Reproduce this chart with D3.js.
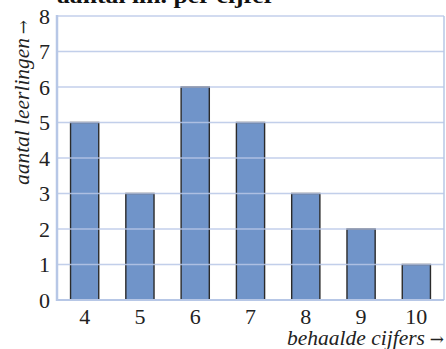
<!DOCTYPE html>
<html><head><meta charset="utf-8">
<script src="https://cdn.jsdelivr.net/npm/d3@7"></script>
<style>body{margin:0;background:#fff}svg{display:block}</style>
</head><body>
<svg id="c" width="446" height="349"></svg>
<script>
const categories = ["4","5","6","7","8","9","10"];
const values = [5,3,6,5,3,2,1];
const yTicks = [0,1,2,3,4,5,6,7,8];
const title = "aantal lln. per cijfer";
const yTitle = "aantal leerlingen";
const xTitle = "behaalde cijfers";
const arrow = "\u2192";

const svg = d3.select("#c");
const L = 57, R = 444, T = 16, B = 300;
const x = d3.scaleBand().domain(categories).range([L, R]).paddingInner(0.49).paddingOuter(0.245);
const y = d3.scaleLinear().domain([0, 8]).range([B, T]);
const gridCol = "#b7c7e6";
const font = "Liberation Serif";
const arrowFont = "DejaVu Serif";

// bars
svg.append("g").selectAll("rect").data(values).join("rect")
  .attr("x", (d,i) => x(categories[i]))
  .attr("y", d => y(d))
  .attr("width", x.bandwidth())
  .attr("height", d => y(0) - y(d))
  .attr("fill", "#7094c9")
  .attr("stroke", "#2b2b2b")
  .attr("stroke-width", 1.4);

// grid lines (over bars)
svg.append("g").selectAll("line").data(yTicks.filter(t => t > 0)).join("line")
  .attr("x1", L).attr("x2", R)
  .attr("y1", d => y(d)).attr("y2", d => y(d))
  .attr("stroke", gridCol).attr("stroke-opacity", 0.85).attr("stroke-width", 1.5);

// frame
svg.append("line").attr("x1", L).attr("x2", R).attr("y1", B).attr("y2", B)
  .attr("stroke", gridCol).attr("stroke-width", 2);
svg.append("line").attr("x1", R).attr("x2", R).attr("y1", T).attr("y2", B)
  .attr("stroke", gridCol).attr("stroke-width", 1.5);
svg.append("line").attr("x1", L).attr("x2", L).attr("y1", T - 1).attr("y2", B + 1)
  .attr("stroke", gridCol).attr("stroke-width", 2.5);

// y axis labels
const yAxis = d3.axisLeft(y).tickValues(yTicks).tickSize(0).tickPadding(0).tickFormat(d3.format("d"));
const gy = svg.append("g").attr("transform", `translate(${L - 7},0)`).call(yAxis)
  .attr("font-family", font).attr("font-size", 22);
gy.select(".domain").remove();
gy.selectAll("text").style("font-family", font).style("font-size", "22px").attr("fill", "#222").attr("dy", "0.33em");

// x axis labels
const xAxis = d3.axisBottom(x).tickSize(0).tickPadding(0);
const gx = svg.append("g").attr("transform", `translate(0,${B + 8})`).call(xAxis)
  .attr("font-family", font).attr("font-size", 22);
gx.select(".domain").remove();
gx.selectAll("text").style("font-family", font).style("font-size", "22px").attr("fill", "#222").attr("dy", "0.72em");

// titles
svg.append("text").attr("x", L).attr("y", 3)
  .style("font-family", font).style("font-size", "21px").style("font-weight", "bold").attr("fill", "#111")
  .attr("textLength", 218).attr("lengthAdjust", "spacingAndGlyphs")
  .text(title);

svg.append("text").attr("transform", "translate(29,38) rotate(-90)")
  .attr("text-anchor", "end")
  .style("font-family", font).style("font-size", "20px").style("font-style", "italic").attr("fill", "#222")
  .attr("textLength", 147).attr("lengthAdjust", "spacingAndGlyphs")
  .text(yTitle);
svg.append("text").attr("transform", "translate(29,20) rotate(-90)")
  .attr("text-anchor", "end")
  .style("font-family", arrowFont).style("font-size", "17px").attr("fill", "#222")
  .text(arrow);

svg.append("text").attr("x", 425).attr("y", 345)
  .attr("text-anchor", "end")
  .style("font-family", font).style("font-size", "20px").style("font-style", "italic").attr("fill", "#222")
  .attr("textLength", 138).attr("lengthAdjust", "spacingAndGlyphs")
  .text(xTitle);
svg.append("text").attr("x", 444).attr("y", 345)
  .attr("text-anchor", "end")
  .style("font-family", arrowFont).style("font-size", "17px").attr("fill", "#222")
  .text(arrow);
</script>
</body></html>
